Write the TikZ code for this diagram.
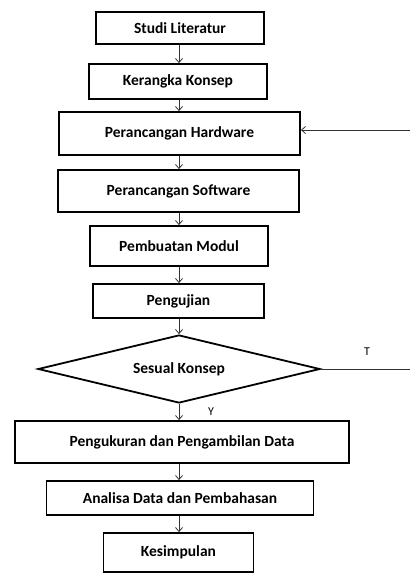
\documentclass[tikz,border=0pt]{standalone}
\usepackage{fontspec}
\setmainfont{Carlito}
\usetikzlibrary{shapes.geometric,arrows.meta}
\begin{document}
\begin{tikzpicture}[x=1pt,y=-1pt,
  box/.style={draw=black,line width=1.8pt,rectangle,inner sep=0pt,font=\fontsize{15.5}{18}\selectfont\bfseries},
  decision/.style={draw=black,line width=1.8pt,diamond,inner sep=0pt},
  dtext/.style={font=\fontsize{15.5}{18}\selectfont\bfseries,inner sep=0pt},
  conn/.style={draw=black!80,line width=0.8pt},
  arr/.style={conn,-{Straight Barb[length=4pt,width=7pt]}},
  lbl/.style={font=\fontsize{12}{14}\selectfont,inner sep=0pt}]
\useasboundingbox (0,0) rectangle (410,573);
\node[box,minimum width=168pt,minimum height=32pt] (b1) at (180,28) {Studi Literatur};
\node[box,minimum width=178pt,minimum height=35pt] (b2) at (178,81.5) {Kerangka Konsep};
\node[box,minimum width=241pt,minimum height=43pt] (b3) at (179.5,133.5) {Perancangan Hardware};
\node[box,minimum width=241pt,minimum height=42pt] (b4) at (178.5,191) {Perancangan Software};
\node[box,minimum width=178pt,minimum height=40pt] (b5) at (179,246) {Pembuatan Modul};
\node[box,minimum width=171pt,minimum height=34pt] (b6) at (178.5,301) {Pengujian};
\node[decision,minimum width=282pt,minimum height=68pt,label={[dtext]center:Sesual Konsep}] (d) at (179,369) {};
\node[box,minimum width=334pt,minimum height=42pt] (b7) at (182,442) {Pengukuran dan Pengambilan Data};
\node[box,minimum width=267pt,minimum height=34pt] (b8) at (180,498) {Analisa Data dan Pembahasan};
\node[box,minimum width=150pt,minimum height=39pt] (b9) at (178.5,552.5) {Kesimpulan};
\coordinate (tR) at (410,369);
\coordinate (hR) at (410,130);
\node[lbl] (T) at (367,352) {T};
\node[lbl] (Y) at (211,412) {Y};
\draw[arr] (b1.south -| 179,0) -- (b2.north -| 179,0);
\draw[arr] (b2.south -| 179,0) -- (b3.north -| 179,0);
\draw[arr] (b3.south -| 179,0) -- (b4.north -| 179,0);
\draw[arr] (b4.south -| 179,0) -- (b5.north -| 179,0);
\draw[arr] (b5.south -| 179,0) -- (b6.north -| 179,0);
\draw[arr] (b6.south -| 179,0) -- (d.north);
\draw[arr] (d.south) -- (b7.north -| d.south);
\draw[arr] (b7.south -| 179,0) -- (b8.north -| 179,0);
\draw[arr] (b8.south -| 179,0) -- (b9.north -| 179,0);
\draw[conn] (d.east) -- (tR);
\draw[arr] (hR) -- (b3.east |- hR);
\end{tikzpicture}
\end{document}
